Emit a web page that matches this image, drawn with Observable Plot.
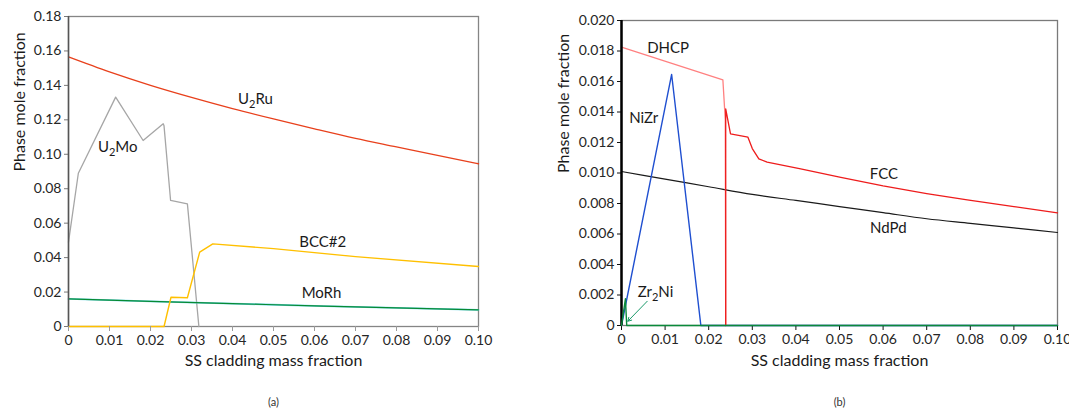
<!DOCTYPE html>
<html>
<head>
<meta charset="utf-8">
<script src="https://cdn.jsdelivr.net/npm/d3@7"></script>
<script src="https://cdn.jsdelivr.net/npm/@observablehq/plot@0.6"></script>
<style>
  body { margin: 0; background: #fff; }
  #wrap { position: relative; width: 1069px; height: 412px; overflow: hidden; }
  #wrap svg { position: absolute; top: 0; }
</style>
</head>
<body>
<div id="wrap"></div>
<script>
// ---------- shared ticks ----------
const ticksX = [0, 0.01, 0.02, 0.03, 0.04, 0.05, 0.06, 0.07, 0.08, 0.09, 0.10];
const ticksYA = [0, 0.02, 0.04, 0.06, 0.08, 0.10, 0.12, 0.14, 0.16, 0.18];
const ticksYB = [0, 0.002, 0.004, 0.006, 0.008, 0.010, 0.012, 0.014, 0.016, 0.018, 0.020];
const xTitle = "SS cladding mass fraction";
const yTitle = "Phase mole fraction";
const panelTags = ["(a)", "(b)"];

// ---------- panel (a) series ----------
const a_U2Ru_x = [0, 0.01, 0.02, 0.03, 0.04, 0.05, 0.06, 0.07, 0.08, 0.09, 0.10];
const a_U2Ru_y = [0.1565, 0.1478, 0.1400, 0.1330, 0.1265, 0.1205, 0.1148, 0.1093, 0.1043, 0.0993, 0.0945];
const a_U2Mo_x = [0, 0.0024, 0.0115, 0.0182, 0.0231, 0.0233, 0.0249, 0.0290, 0.0318];
const a_U2Mo_y = [0.049, 0.089, 0.1332, 0.108, 0.1177, 0.1165, 0.0732, 0.0712, 0];
const a_BCC_x = [0, 0.0233, 0.0250, 0.0290, 0.0320, 0.0352, 0.05, 0.07, 0.10];
const a_BCC_y = [0, 0, 0.0170, 0.0167, 0.0432, 0.0480, 0.0452, 0.0406, 0.0348];
const a_MoRh_x = [0, 0.02, 0.04, 0.06, 0.08, 0.10];
const a_MoRh_y = [0.0160, 0.0146, 0.0133, 0.0120, 0.0108, 0.0097];
const a_labels = ["U₂Ru", "U₂Mo", "BCC#2", "MoRh"];
const a_labelX = [0.0456, 0.0120, 0.0620, 0.0617];
const a_labelY = [0.1318, 0.1039, 0.0490, 0.0192];

// ---------- panel (b) series ----------
const b_DHCP_x = [0, 0.02325, 0.0238, 0.0239];
const b_DHCP_y = [0.01825, 0.01611, 0.0135, 0];
const b_FCC_x = [0.0239, 0.0239, 0.0250, 0.0290, 0.0300, 0.0315, 0.0334, 0.0411, 0.0503, 0.0600, 0.0700, 0.0793, 0.0900, 0.1000];
const b_FCC_y = [0, 0.0142, 0.01257, 0.01235, 0.0116, 0.01093, 0.01071, 0.01027, 0.00972, 0.00915, 0.00865, 0.00824, 0.0078, 0.00739];
const b_NiZr_x = [0, 0.0115, 0.0182, 0.10];
const b_NiZr_y = [0, 0.01646, 0, 0];
const b_NdPd_x = [0, 0.01, 0.02, 0.03, 0.04, 0.05, 0.06, 0.07, 0.08, 0.09, 0.10];
const b_NdPd_y = [0.0101, 0.0096, 0.0091, 0.0086, 0.0082, 0.0078, 0.0074, 0.0070, 0.0067, 0.0064, 0.0061];
const b_Zr2Ni_x = [0, 0.0009, 0.0012, 0.10];
const b_Zr2Ni_y = [0, 0.00175, 0, 0];
const b_labels = ["DHCP", "NiZr", "FCC", "NdPd", "Zr₂Ni"];
const b_labelX = [0.0107, 0.0051, 0.0602, 0.0612, 0.0078];
const b_labelY = [0.01818, 0.01362, 0.00995, 0.00638, 0.00218];
const b_arrow_x1 = [0.0059], b_arrow_y1 = [0.00159], b_arrow_x2 = [0.00145], b_arrow_y2 = [0.00028];

const zip = (xs, ys) => xs.map((x, i) => ({x, y: ys[i]}));
const fmtX = d => d === 0 ? "0" : d.toFixed(2);
const FONT = "Lato, 'Open Sans', sans-serif";

function subscripts(svg) {
  for (const t of svg.querySelectorAll("text")) {
    const s = t.textContent;
    if (!s.includes("₂")) continue;
    const [a, b] = s.split("₂");
    t.textContent = "";
    const ns = "http://www.w3.org/2000/svg";
    const t1 = document.createElementNS(ns, "tspan"); t1.textContent = a;
    const t2 = document.createElementNS(ns, "tspan"); t2.textContent = "2";
    t2.setAttribute("font-size", "11"); t2.setAttribute("dy", "4");
    const t3 = document.createElementNS(ns, "tspan"); t3.textContent = b; t3.setAttribute("dy", "-4");
    t.append(t1, t2, t3);
  }
}

// ---------- panel (a) ----------
const plotA = Plot.plot({
  width: 534, height: 412,
  marginLeft: 68, marginRight: 56, marginTop: 16, marginBottom: 86,
  x: {domain: [0, 0.1], axis: null},
  y: {domain: [0, 0.18], axis: null},
  style: {fontFamily: FONT, fontSize: "14px", color: "#262626", background: "#fff"},
  marks: [
    Plot.frame({stroke: "#858585", strokeWidth: 1.3}),
    Plot.line(zip(a_U2Mo_x, a_U2Mo_y), {x: "x", y: "y", stroke: "#a6a6a6", strokeWidth: 1.3}),
    Plot.line(zip(a_U2Ru_x, a_U2Ru_y), {x: "x", y: "y", stroke: "#e8401c", strokeWidth: 1.3, curve: "monotone-x"}),
    Plot.line(zip(a_MoRh_x, a_MoRh_y), {x: "x", y: "y", stroke: "#6fd6e6", strokeWidth: 1.8, curve: "monotone-x"}),
    Plot.line(zip(a_MoRh_x, a_MoRh_y), {x: "x", y: "y", stroke: "#078a34", strokeWidth: 1.2, curve: "monotone-x"}),
    Plot.line(zip(a_BCC_x, a_BCC_y), {x: "x", y: "y", stroke: "#ffc000", strokeWidth: 1.4}),
    Plot.axisY(ticksYA, {tickSize: 4, tickPadding: 3, stroke: "#7a7a7a", tickFormat: fmtX, label: null}),
    Plot.axisX(ticksX, {tickSize: 5, tickPadding: 4, stroke: "#9a9a9a", tickFormat: fmtX, label: null}),
    Plot.ruleX([0], {stroke: "#555", strokeWidth: 1.5}),
    Plot.text(a_labels, {x: (d, i) => a_labelX[i], y: (d, i) => a_labelY[i], text: d => d, fontSize: 15, fill: "#1a1a1a"}),
    Plot.text([yTitle], {frameAnchor: "left", dx: -49, rotate: -90, fontSize: 16, fill: "#1a1a1a"}),
    Plot.text([xTitle], {frameAnchor: "bottom", dy: 39, fontSize: 16, fill: "#1a1a1a"}),
    Plot.text([panelTags[0]], {frameAnchor: "bottom", dy: 79, fontSize: 11, fill: "#333"})
  ]
});
plotA.style.left = "0px";
subscripts(plotA);
document.getElementById("wrap").append(plotA);

// ---------- panel (b) ----------
const plotB = Plot.plot({
  width: 535, height: 412,
  marginLeft: 87, marginRight: 12, marginTop: 20, marginBottom: 87,
  x: {domain: [0, 0.1], axis: null},
  y: {domain: [0, 0.02], axis: null},
  style: {fontFamily: FONT, fontSize: "14px", color: "#262626", background: "#fff"},
  marks: [
    Plot.frame({stroke: "#7a7a7a", strokeWidth: 1.3}),
    Plot.line(zip(b_NdPd_x, b_NdPd_y), {x: "x", y: "y", stroke: "#1a1a1a", strokeWidth: 1.2, curve: "monotone-x"}),
    Plot.line(zip(b_NiZr_x, b_NiZr_y), {x: "x", y: "y", stroke: "#1f4fd0", strokeWidth: 1.4}),
    Plot.line(zip(b_DHCP_x, b_DHCP_y), {x: "x", y: "y", stroke: "#ff8080", strokeWidth: 1.3}),
    Plot.line(zip(b_FCC_x, b_FCC_y), {x: "x", y: "y", stroke: "#ee1c1c", strokeWidth: 1.3}),
    Plot.axisY(ticksYB, {tickSize: 4, tickPadding: 3, stroke: "#111", tickFormat: d => d === 0 ? "0" : d.toFixed(3), label: null}),
    Plot.axisX(ticksX, {tickSize: 5, tickPadding: 4, stroke: "#111", tickFormat: fmtX, label: null}),
    Plot.ruleX([0], {stroke: "#000", strokeWidth: 2.5}),
    Plot.line(zip(b_Zr2Ni_x, b_Zr2Ni_y), {x: "x", y: "y", stroke: "#0a8a3a", strokeWidth: 1.4}),
    Plot.arrow(b_arrow_x1, {x1: (d, i) => b_arrow_x1[i], y1: (d, i) => b_arrow_y1[i], x2: (d, i) => b_arrow_x2[i], y2: (d, i) => b_arrow_y2[i], stroke: "#1a9a6a", strokeWidth: 1, headLength: 6}),
    Plot.text(b_labels, {x: (d, i) => b_labelX[i], y: (d, i) => b_labelY[i], text: d => d, fontSize: 15, fill: "#1a1a1a"}),
    Plot.text([yTitle], {frameAnchor: "left", dx: -58, rotate: -90, fontSize: 16, fill: "#1a1a1a"}),
    Plot.text([xTitle], {frameAnchor: "bottom", dy: 40, fontSize: 16, fill: "#1a1a1a"}),
    Plot.text([panelTags[1]], {frameAnchor: "bottom", dy: 80, fontSize: 11, fill: "#333"})
  ]
});
plotB.style.left = "534px";
subscripts(plotB);
document.getElementById("wrap").append(plotB);
</script>
</body>
</html>
